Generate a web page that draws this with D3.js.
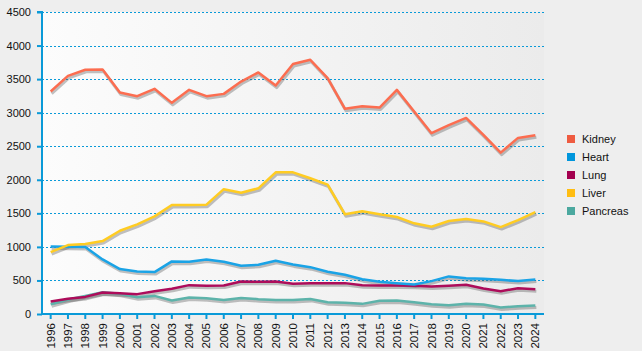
<!DOCTYPE html>
<html>
<head>
<meta charset="utf-8">
<script src="https://cdn.jsdelivr.net/npm/d3@7"></script>
<style>
  html, body { margin: 0; padding: 0; background: #eeeeee; }
  svg { display: block; font-family: "Liberation Sans", Arial, sans-serif; }
</style>
</head>
<body>
<div id="container"></div>
<script>
/* CONSTANTS */
const width = 642,
  height = 351,
  margin = { top: 12, bottom: 37, left: 42, right: 98 }

/* DATA */
const years = d3.range(1996, 2025).map(String)
const yTicks = [0, 500, 1000, 1500, 2000, 2500, 3000, 3500, 4000, 4500]

const kidney = [3315, 3549, 3639, 3645, 3300, 3246, 3355, 3146, 3340, 3246,
  3280, 3464, 3599, 3404, 3724, 3788, 3515, 3057, 3097, 3076,
  3340, 3016, 2694, 2813, 2922, 2669, 2404, 2624, 2664]
const heart = [1007, 1002, 997, 813, 669, 634, 624, 784, 778, 813,
  778, 718, 733, 793, 739, 698, 629, 584, 519, 479,
  460, 440, 490, 560, 534, 524, 509, 490, 515]
const lung = [186, 226, 255, 321, 310, 296, 340, 375, 430, 420,
  425, 485, 480, 485, 450, 460, 460, 460, 430, 425,
  425, 420, 410, 420, 435, 380, 340, 385, 370]
const liver = [922, 1027, 1042, 1087, 1240, 1336, 1455, 1624, 1624, 1629,
  1860, 1807, 1873, 2111, 2111, 2022, 1927, 1485, 1530, 1485,
  1445, 1351, 1300, 1385, 1415, 1380, 1295, 1400, 1519]
const pancreas = [146, 216, 270, 325, 300, 251, 270, 201, 246, 236,
  210, 240, 221, 210, 210, 225, 176, 166, 151, 196,
  201, 176, 146, 131, 151, 141, 97, 116, 127]

const seriesNames = ['Kidney', 'Heart', 'Lung', 'Liver', 'Pancreas']
const seriesValues = [kidney, heart, lung, liver, pancreas]
const lineColors = ['#fc6d50', '#1aa3e6', '#ad0c5a', '#ffcc22', '#5db3aa']
const legendColors = ['#ee5b40', '#0096dc', '#a3004f', '#ffbd12', '#4ba89f']

const series = seriesNames.map((name, i) => ({
  name: name,
  values: seriesValues[i].map((v, j) => ({ year: years[j], value: v })),
  line: lineColors[i],
  swatch: legendColors[i]
}))

/* SVG */
const svg = d3.select('#container')
  .append('svg')
  .attr('width', width)
  .attr('height', height)

const defs = svg.append('defs')
const grad = defs.append('linearGradient')
  .attr('id', 'bg')
  .attr('x1', '0%').attr('x2', '100%')
  .attr('y1', '0%').attr('y2', '0%')
grad.append('stop').attr('offset', '0%').attr('stop-color', '#fcfcfc')
grad.append('stop').attr('offset', '100%').attr('stop-color', '#ebebeb')

/* SCALES */
const xScale = d3.scaleBand()
  .domain(years)
  .range([margin.left, width - margin.right])

const yScale = d3.scaleLinear()
  .domain([0, 4500])
  .range([height - margin.bottom, margin.top])

const xPos = d => xScale(d) + xScale.bandwidth() / 2

// plot background
svg.append('rect')
  .attr('x', margin.left)
  .attr('y', margin.top)
  .attr('width', width - margin.right - margin.left)
  .attr('height', height - margin.bottom - margin.top)
  .attr('fill', 'url(#bg)')

// grid lines
svg.append('g')
  .selectAll('line')
  .data(yTicks.filter(d => d > 0))
  .join('line')
  .attr('x1', margin.left)
  .attr('x2', width - margin.right)
  .attr('y1', d => Math.round(yScale(d)) + 0.5)
  .attr('y2', d => Math.round(yScale(d)) + 0.5)
  .attr('stroke', '#0a9ad8')
  .attr('stroke-dasharray', '2,2')

/* AXES */
const yAxis = d3.axisLeft(yScale)
  .tickValues(yTicks)
  .tickSize(5)
  .tickPadding(6)
  .tickFormat(d3.format('d'))

const xAxis = d3.axisBottom(xScale)
  .tickSize(5)
  .tickPadding(4)

const gy = svg.append('g')
  .attr('transform', `translate(${margin.left}, 0)`)
  .call(yAxis)

const gx = svg.append('g')
  .attr('transform', `translate(0, ${height - margin.bottom})`)
  .call(xAxis)

gx.selectAll('text')
  .attr('transform', 'rotate(-90)')
  .attr('x', -9)
  .attr('y', 0)
  .attr('dy', '0.35em')
  .style('text-anchor', 'end')

for (const g of [gx, gy]) {
  g.selectAll('.domain').attr('stroke', '#0a9ad8').attr('stroke-width', 2)
  g.selectAll('.tick line').attr('stroke', '#0a9ad8').attr('stroke-width', 2)
  g.selectAll('text').attr('fill', '#111').style('font-size', '11px')
    .style('font-family', '"Liberation Sans", Arial, sans-serif')
}
gx.selectAll('text').style('font-size', '11.5px')
gy.select('.domain').attr('d', `M-5,${yScale(4500)}H0V${yScale(0)}`)
gx.select('.domain').attr('d', `M${margin.left},0H${width - margin.right}`)

/* LINES */
const line = d3.line()
  .x(d => xPos(d.year))
  .y(d => yScale(d.value))

const drawOrder = [4, 2, 1, 3, 0]

// shadows
svg.append('g')
  .attr('transform', 'translate(1, 2)')
  .selectAll('path')
  .data(drawOrder.map(i => series[i]))
  .join('path')
  .attr('d', d => line(d.values))
  .attr('fill', 'none')
  .attr('stroke', 'rgba(80,80,80,0.35)')
  .attr('stroke-width', 3)
  .attr('stroke-linejoin', 'round')

svg.append('g')
  .selectAll('path')
  .data(drawOrder.map(i => series[i]))
  .join('path')
  .attr('d', d => line(d.values))
  .attr('fill', 'none')
  .attr('stroke', d => d.line)
  .attr('stroke-width', 2.5)
  .attr('stroke-linejoin', 'round')

/* LEGEND */
const legend = svg.append('g')
  .attr('transform', 'translate(567, 135)')

legend.selectAll('rect')
  .data(series)
  .join('rect')
  .attr('x', 0)
  .attr('y', (d, i) => i * 18)
  .attr('width', 8)
  .attr('height', 8)
  .attr('fill', d => d.swatch)

legend.selectAll('text')
  .data(series)
  .join('text')
  .attr('x', 15)
  .attr('y', (d, i) => i * 18 + 4)
  .attr('dy', '0.35em')
  .style('font-size', '11px')
  .attr('fill', '#111')
  .text(d => d.name)
</script>
</body>
</html>
